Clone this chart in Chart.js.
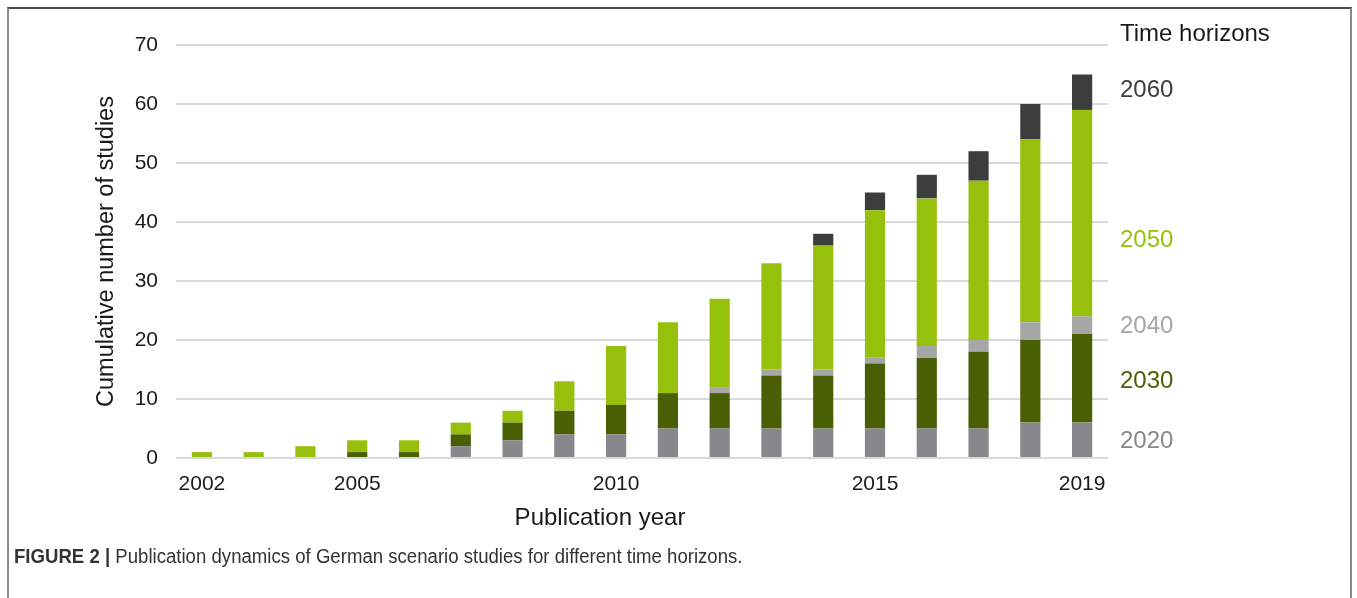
<!DOCTYPE html>
<html>
<head>
<meta charset="utf-8">
<script src="https://cdn.jsdelivr.net/npm/chart.js@4"></script>
<style>
  html, body { margin: 0; padding: 0; background: #fff; width: 1357px; height: 598px; overflow: hidden; }
  #frame { position: absolute; left: 7px; top: 7px; width: 1341px; height: 620px;
           border-left: 2px solid #8a8a8a; border-right: 2px solid #8a8a8a; border-top: 2px solid #4a4a4a; }
  #wrap { position: absolute; left: 0; top: 0; width: 1357px; height: 598px; }
  #caption { position: absolute; left: 14px; top: 545px; font-family: "Liberation Sans", Arial, sans-serif;
             font-size: 20px; color: #333; white-space: nowrap; transform: scaleX(0.93); transform-origin: left top; }
  #caption b { font-weight: bold; }
</style>
</head>
<body>
<div id="frame"></div>
<div id="wrap"><canvas id="c" width="1357" height="598"></canvas></div>
<div id="caption"><b>FIGURE 2 |</b> Publication dynamics of German scenario studies for different time horizons.</div>
<script>
const years = ["2002","2003","2004","2005","2006","2007","2008","2009","2010","2011","2012","2013","2014","2015","2016","2017","2018","2019"];
const shownYears = ["2002","2005","2010","2015","2019"];
const h2020 = [0,0,0,0,0,2,3,4,4,5,5,5,5,5,5,5,6,6];
const h2030 = [0,0,0,1,1,2,3,4,5,6,6,9,9,11,12,13,14,15];
const h2040 = [0,0,0,0,0,0,0,0,0,0,1,1,1,1,2,2,3,3];
const h2050 = [1,1,2,2,2,2,2,5,10,12,15,18,21,25,25,27,31,35];
const h2060 = [0,0,0,0,0,0,0,0,0,0,0,0,2,3,4,5,6,6];
const horizonNames = ["2020","2030","2040","2050","2060"];
const legendTitle = "Time horizons";
const yTitle = "Cumulative number of studies";
const xTitle = "Publication year";

const colors = { "2020": "#88878c", "2030": "#4a5f04", "2040": "#a6a6a6", "2050": "#97c00c", "2060": "#3d3d3d" };
const series = [h2020, h2030, h2040, h2050, h2060];
const FONT = "'Liberation Sans', Arial, sans-serif";

const sideLabels = {
  id: 'sideLabels',
  afterDraw(chart) {
    const ctx = chart.ctx;
    ctx.save();
    ctx.textBaseline = 'middle';
    ctx.textAlign = 'left';
    const x = 1120;
    ctx.font = "24px " + FONT;
    ctx.fillStyle = "#1a1a1a";
    ctx.fillText(legendTitle, x, 34);
    const ys = { "2060": 90, "2050": 240, "2040": 326, "2030": 381, "2020": 441 };
    ctx.font = "24px " + FONT;
    horizonNames.forEach(n => {
      ctx.fillStyle = colors[n];
      ctx.fillText(n, x, ys[n]);
    });
    // x axis title (offset left of plot centre, as in the original)
    ctx.textAlign = 'center';
    ctx.fillStyle = "#1a1a1a";
    ctx.font = "24px " + FONT;
    ctx.fillText(xTitle, 600, 518);
    ctx.restore();
  }
};

new Chart(document.getElementById('c'), {
  type: 'bar',
  data: {
    labels: years,
    datasets: horizonNames.map((n, i) => ({
      label: n,
      data: series[i],
      backgroundColor: colors[n],
      borderWidth: 0,
      barPercentage: 0.78,
      categoryPercentage: 0.5
    }))
  },
  options: {
    responsive: false,
    animation: false,
    layout: { padding: { left: 86, right: 249, top: 45, bottom: 58 } },
    plugins: { legend: { display: false }, tooltip: { enabled: false } },
    scales: {
      x: {
        stacked: true,
        grid: { display: false },
        border: { display: false },
        ticks: {
          autoSkip: false, maxRotation: 0, padding: 6,
          color: "#1a1a1a", font: { family: FONT, size: 21 },
          callback(v) { const l = this.getLabelForValue(v); return shownYears.includes(l) ? l : ''; }
        },
        title: { display: false },
        afterFit(s) { s.height = 82; }
      },
      y: {
        stacked: true,
        min: 0, max: 70,
        grid: { color: "#d9d9d9", lineWidth: 2, drawTicks: false },
        border: { display: false },
        ticks: { stepSize: 10, padding: 18, color: "#1a1a1a", font: { family: FONT, size: 21 } },
        title: { display: true, text: yTitle, color: "#1a1a1a", font: { family: FONT, size: 23.5 }, padding: { top: 6, bottom: 0 } },
        afterFit(s) { s.width = 90; }
      }
    }
  },
  plugins: [sideLabels]
});
</script>
</body>
</html>
